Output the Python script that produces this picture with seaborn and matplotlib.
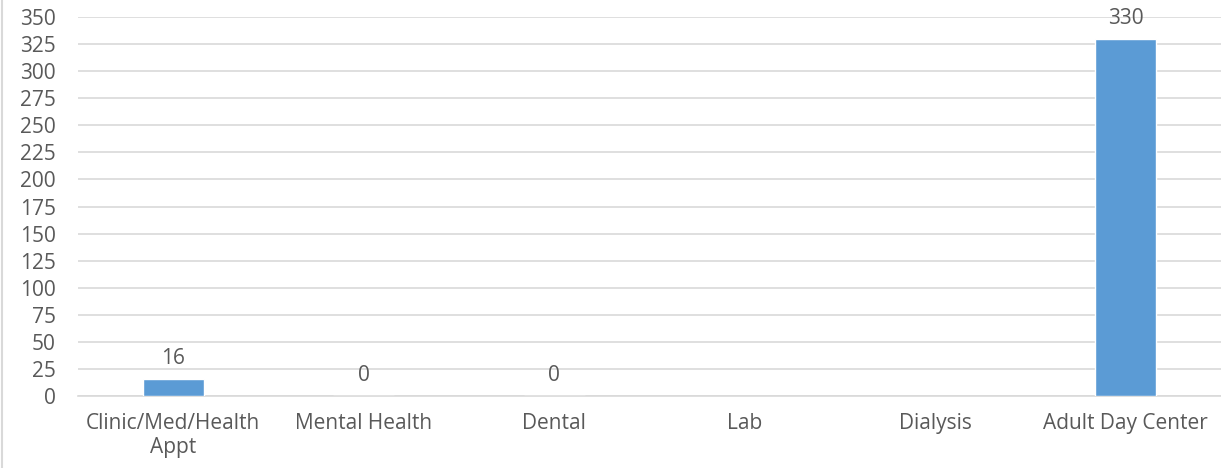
import numpy as np
import pandas as pd
import matplotlib.pyplot as plt
import seaborn as sns
from matplotlib.lines import Line2D

categories = ["Clinic/Med/Health\nAppt", "Mental Health", "Dental", "Lab", "Dialysis", "Adult Day Center"]
trips = [16, 0, 0, np.nan, np.nan, 330]

df = pd.DataFrame({"category": categories, "trips": trips})

sns.set_style("white")
plt.rcParams["font.family"] = ["Open Sans", "DejaVu Sans"]

text_color = "#595959"
grid_color = "#D9D9D9"
fs = 15

fig = plt.figure(figsize=(12.21, 4.68), dpi=100)
ax = fig.add_axes([0.0639, 0.1538, 0.9361, 0.8099])

sns.barplot(data=df, x="category", y="trips", color="#5B9BD5", width=0.32,
            saturation=1, ax=ax, zorder=3)

# data labels, Lab and Dialysis have none
for i, v in enumerate(trips):
    if np.isnan(v):
        continue
    ax.annotate(f"{int(v)}", (i, v), xytext=(0, 7), textcoords="offset points",
                ha="center", va="bottom", fontsize=fs, color=text_color, zorder=4)

ax.set_ylim(0, 350)
ax.set_yticks(np.arange(0, 351, 25))
ax.set_xlim(-0.5, len(categories) - 0.5)
ax.set_xlabel("")
ax.set_ylabel("")
ax.grid(axis="y", color=grid_color, linewidth=1.2, zorder=0)
ax.tick_params(axis="y", length=0, pad=16, labelsize=fs, labelcolor=text_color)
ax.tick_params(axis="x", length=0, pad=12, labelsize=fs, labelcolor=text_color)
for s in ["top", "right", "left"]:
    ax.spines[s].set_visible(False)
ax.spines["bottom"].set_color(grid_color)
ax.spines["bottom"].set_linewidth(1.2)

# left edge of the chart frame
fig.add_artist(Line2D([0.0016, 0.0016], [0, 1], transform=fig.transFigure,
                      color=grid_color, linewidth=1.5))

fig.savefig("out.png", dpi=100)
